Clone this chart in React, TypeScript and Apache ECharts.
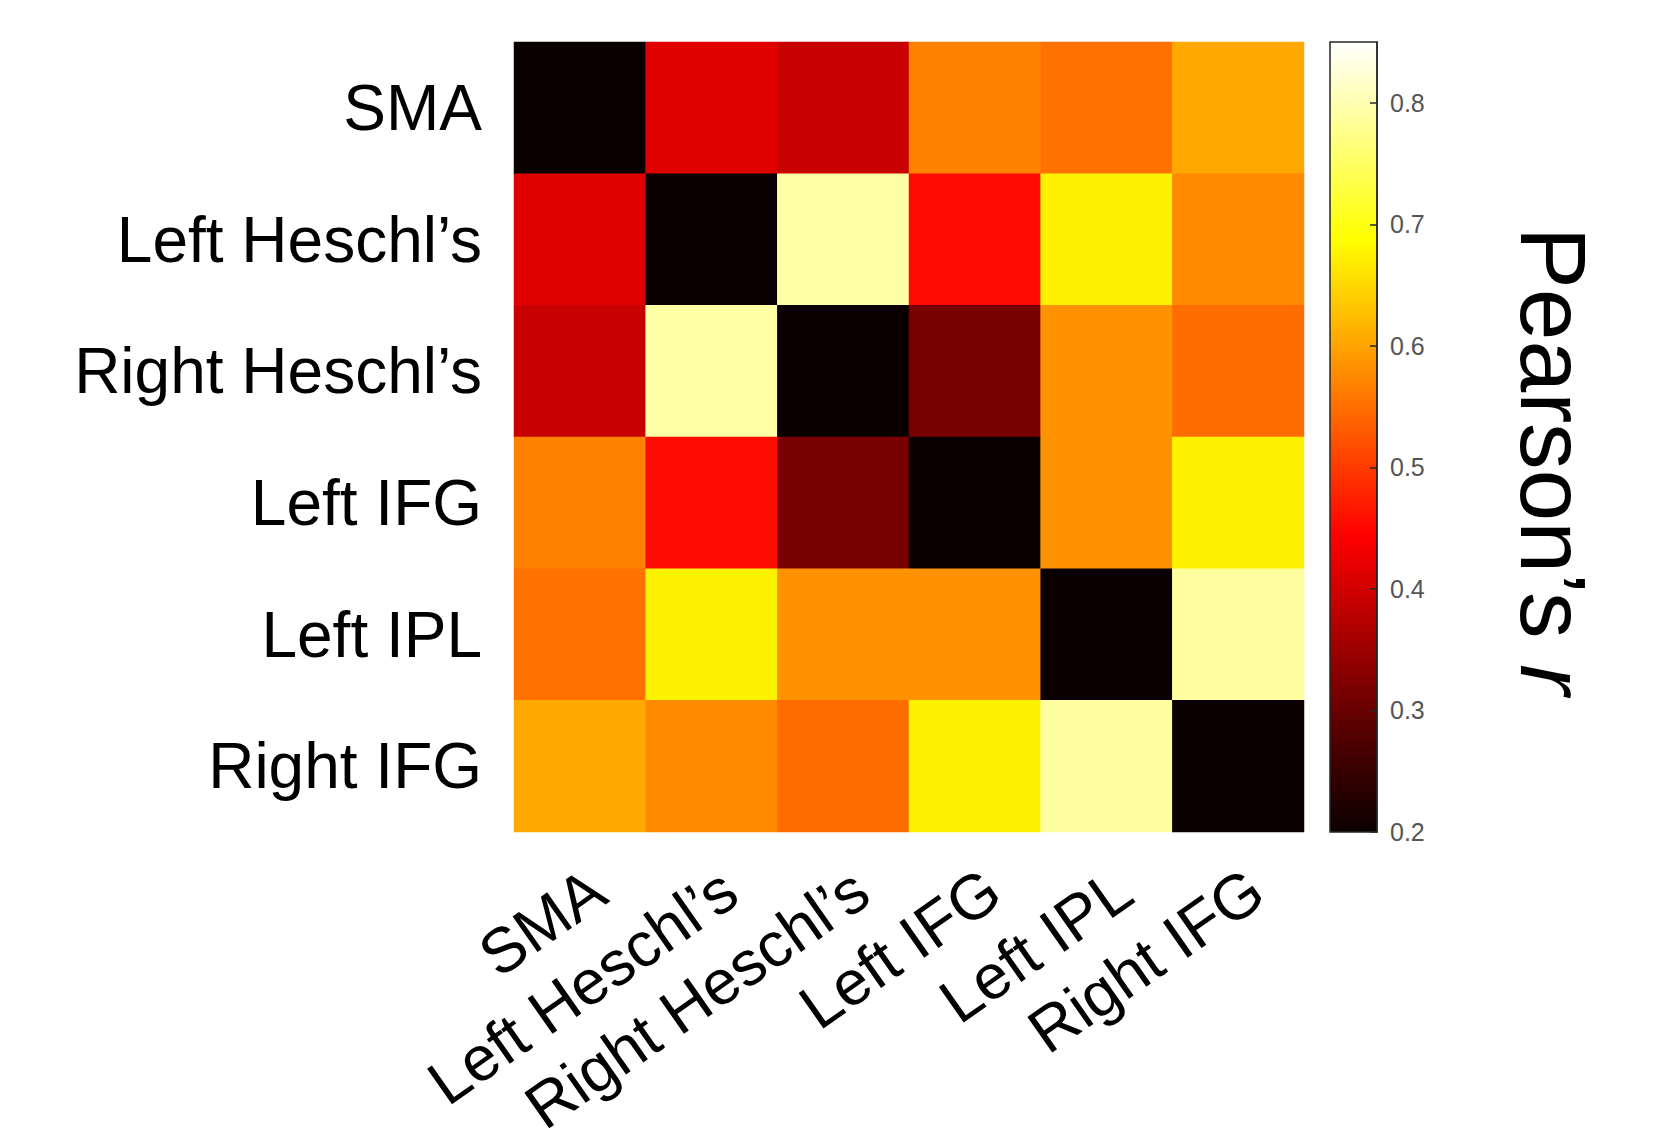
import React, { useEffect, useRef } from "react";
import * as echarts from "echarts";

const regions = ["SMA", "Left Heschl\u2019s", "Right Heschl\u2019s", "Left IFG", "Left IPL", "Right IFG"];

const rowSMA = [0.2, 0.414, 0.391, 0.568, 0.553, 0.604];
const rowLeftHeschl = [0.414, 0.2, 0.793, 0.453, 0.675, 0.576];
const rowRightHeschl = [0.391, 0.793, 0.2, 0.315, 0.583, 0.547];
const rowLeftIFG = [0.568, 0.453, 0.315, 0.2, 0.583, 0.675];
const rowLeftIPL = [0.553, 0.675, 0.583, 0.583, 0.2, 0.789];
const rowRightIFG = [0.604, 0.576, 0.547, 0.675, 0.789, 0.2];

const matrixRows = [rowSMA, rowLeftHeschl, rowRightHeschl, rowLeftIFG, rowLeftIPL, rowRightIFG];

const colorMin = 0.2;
const colorMax = 0.85;
const colorbarTicks = [0.2, 0.3, 0.4, 0.5, 0.6, 0.7, 0.8];
const hotColors = ["#0b0000", "#550000", "#aa0000", "#ff0000", "#ff5500", "#ffaa00", "#ffff00", "#ffff80", "#ffffff"];

const FONT = "'Liberation Sans', Arial, Helvetica, sans-serif";

export default function App() {
  const ref = useRef<HTMLDivElement>(null);
  useEffect(() => {
    if (!ref.current) return;
    const chart = echarts.init(ref.current, null, { renderer: "svg" });
    const data: [number, number, number][] = [];
    matrixRows.forEach((row, yi) => row.forEach((v, xi) => data.push([xi, yi, v])));

    const gx = 514, gy = 42, gw = 790, gh = 790;
    const cx = 1330, cw = 47;

    chart.setOption({
      animation: false,
      backgroundColor: "#ffffff",
      textStyle: { fontFamily: FONT },
      grid: [
        { left: gx, top: gy, width: gw, height: gh, outerBoundsMode: "none", containLabel: false },
        {
          left: cx, top: gy, width: cw, height: gh, outerBoundsMode: "none", containLabel: false,
          show: true, borderColor: "#262626", borderWidth: 1.5, backgroundColor: "transparent", z: 10,
        },
      ],
      xAxis: [
        {
          type: "category",
          gridIndex: 0,
          data: regions,
          axisLine: { show: false },
          axisTick: { show: false },
          splitLine: { show: false },
          axisLabel: {
            interval: 0,
            rotate: 35,
            align: "right",
            verticalAlign: "top",
            margin: 25,
            fontSize: 63,
            color: "#000",
            fontFamily: FONT,
          },
        },
        { type: "category", gridIndex: 1, show: false, data: [""] },
      ],
      yAxis: [
        {
          type: "category",
          gridIndex: 0,
          data: regions,
          inverse: true,
          axisLine: { show: false },
          axisTick: { show: false },
          splitLine: { show: false },
          axisLabel: { interval: 0, margin: 32, fontSize: 64, color: "#000", fontFamily: FONT },
        },
        {
          type: "value",
          gridIndex: 1,
          position: "right",
          min: colorMin,
          max: colorMax,
          splitLine: { show: false },
          axisLine: { show: true, onZero: false, lineStyle: { color: "#262626", width: 1.5 } },
          axisTick: { show: true, inside: true, length: 7, lineStyle: { color: "#262626", width: 1.5 }, customValues: colorbarTicks },
          axisLabel: { margin: 13, fontSize: 25, color: "#555", fontFamily: FONT, customValues: colorbarTicks, formatter: (v: number) => v.toFixed(1) },
          z: 11,
        },
      ],
      visualMap: {
        type: "continuous",
        seriesIndex: 0,
        dimension: 2,
        min: colorMin,
        max: colorMax,
        inRange: { color: hotColors },
        show: true,
        calculable: false,
        orient: "vertical",
        left: cx,
        top: gy,
        itemWidth: cw,
        itemHeight: gh,
        padding: 0,
        hoverLink: false,
      },
      series: [
        {
          type: "heatmap",
          xAxisIndex: 0,
          yAxisIndex: 0,
          data,
          itemStyle: { borderWidth: 0 },
          emphasis: { disabled: true },
        },
        { type: "scatter", xAxisIndex: 1, yAxisIndex: 1, data: [] },
      ],
      graphic: [
        {
          type: "text",
          x: 1553,
          y: 461,
          rotation: -Math.PI / 2,
          style: {
            text: "{a|Pearson\u2019s }{b|r}",
            align: "center",
            verticalAlign: "middle",
            fill: "#000",
            rich: {
              a: { fontSize: 93, fontFamily: FONT, fill: "#000" },
              b: { fontSize: 93, fontFamily: FONT, fontStyle: "italic", fill: "#000" },
            },
          },
        },
      ],
    });
    return () => chart.dispose();
  }, []);
  return <div ref={ref} style={{ position: "fixed", left: 0, top: 0, width: 1666, height: 1140 }} />;
}
